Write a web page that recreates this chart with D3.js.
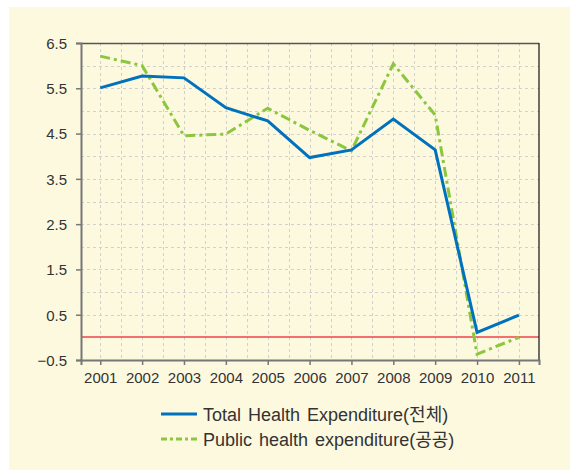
<!DOCTYPE html>
<html><head><meta charset="utf-8">
<script src="https://cdn.jsdelivr.net/npm/d3@7"></script>
<style>
html,body{margin:0;padding:0;background:#fff;}
svg{display:block;}
</style></head>
<body>
<script>
const years = [2001,2002,2003,2004,2005,2006,2007,2008,2009,2010,2011];
const totalHealth = [5.51,5.77,5.73,5.07,4.78,3.97,4.14,4.82,4.14,0.11,0.49];
const publicHealth = [6.21,6.0,4.45,4.49,5.06,4.57,4.12,6.04,4.91,-0.37,0.0];
const yTicks = [-0.5,0.5,1.5,2.5,3.5,4.5,5.5,6.5];
const seriesNames = ["Total Health Expenditure(전체)","Public health expenditure(공공)"];

const W=570,H=470;
const svg=d3.select("body").append("svg").attr("width",W).attr("height",H);
svg.append("rect").attr("x",9).attr("y",7).attr("width",W-9).attr("height",H-7).attr("fill","#fdf9df");

const L=81,R=539,T=43,B=360;
const x=d3.scaleLinear().domain([2000.54,2011.48]).range([L,R]);
const y=d3.scaleLinear().domain([-0.5,6.5]).range([B,T]);

const font="'Liberation Sans', Arial, sans-serif";
// grid
const g=svg.append("g");
const vGrid=d3.range(2001,2011.01,0.5);
g.selectAll("line.v").data(vGrid).join("line")
 .attr("x1",d=>Math.round(x(d))+0.5).attr("x2",d=>Math.round(x(d))+0.5).attr("y1",T).attr("y2",B)
 .attr("stroke","#d0d0d0").attr("stroke-width",1).attr("stroke-dasharray","3,3");
const hGrid=d3.range(-0.5,6.01,0.5).filter(v=>Math.abs(v)>1e-9 && v>-0.5);
g.selectAll("line.h").data(hGrid).join("line")
 .attr("y1",d=>Math.round(y(d))+0.5).attr("y2",d=>Math.round(y(d))+0.5).attr("x1",L).attr("x2",R)
 .attr("stroke","#d0d0d0").attr("stroke-width",1).attr("stroke-dasharray","3,3");

// zero line
const zy=Math.round(y(0));
svg.append("line").attr("x1",L).attr("x2",R).attr("y1",zy).attr("y2",zy)
 .attr("stroke","#f0404a").attr("stroke-width",1.6);

// border top/right
svg.append("line").attr("x1",L).attr("x2",R).attr("y1",T+0.5).attr("y2",T+0.5).attr("stroke","#555").attr("stroke-width",1.3);
svg.append("line").attr("x1",R).attr("x2",R).attr("y1",T).attr("y2",B).attr("stroke","#222").attr("stroke-width",1.3);

// axes
const yAxis=d3.axisLeft(y).tickValues(yTicks).tickSize(5).tickPadding(9).tickFormat(d3.format(".1f"));
const ya=svg.append("g").attr("transform",`translate(${L},0)`).call(yAxis);
const xAxis=d3.axisBottom(x).tickValues(years).tickSize(5).tickPadding(7).tickFormat(d3.format("d"));
const xa=svg.append("g").attr("transform",`translate(0,${B})`).call(xAxis);
[ya,xa].forEach(a=>{
  a.select(".domain").attr("stroke","#777").attr("stroke-width",2);
  a.selectAll(".tick line").attr("stroke","#777").attr("stroke-width",1.5);
  a.selectAll("text").attr("font-family",font).attr("font-size",15).attr("fill","#333");
});
ya.selectAll(".tick text").attr("dy","0.36em");

// lines
const line=d3.line().x((d,i)=>x(years[i])).y(d=>y(d));
svg.append("path").datum(publicHealth).attr("d",line).attr("fill","none")
 .attr("stroke","#8cc63e").attr("stroke-width",3).attr("stroke-dasharray","10,4,3,4");
svg.append("path").datum(totalHealth).attr("d",line).attr("fill","none")
 .attr("stroke","#0071bc").attr("stroke-width",3).attr("stroke-linejoin","miter");

// legend
const lg=svg.append("g");
const items=[{name:seriesNames[0],c:"#0071bc",dash:null},{name:seriesNames[1],c:"#8cc63e",dash:"6,3,3,3"}];
items.forEach((it,i)=>{
  const yy=414+i*25;
  lg.append("line").attr("x1",161).attr("x2",197).attr("y1",yy).attr("y2",yy)
   .attr("stroke",it.c).attr("stroke-width",3).attr("stroke-dasharray",it.dash);
  lg.append("text").attr("x",203).attr("y",yy+7)
   .attr("font-family","'Liberation Sans','Noto Sans CJK KR',sans-serif").attr("font-size",18)
   .attr("word-spacing",2)
   .attr("fill","#333").text(it.name);
});
</script>
</body></html>
